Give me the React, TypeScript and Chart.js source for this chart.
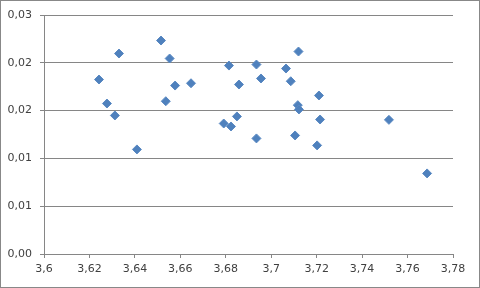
import React, { useEffect, useRef } from "react";
import { Chart, registerables } from "chart.js";

Chart.register(...registerables);

const xValues = [
  3.6242, 3.6277, 3.6312, 3.633, 3.6409, 3.6515, 3.6536, 3.6553, 3.6577, 3.6647,
  3.6791, 3.6814, 3.6823, 3.6849, 3.6858, 3.6935, 3.6935, 3.6955, 3.7065, 3.7086,
  3.7105, 3.712, 3.7117, 3.7122, 3.721, 3.7202, 3.7215, 3.7518, 3.7686,
];
const yValues = [
  0.01825, 0.01574, 0.01449, 0.02097, 0.01094, 0.02233, 0.01598, 0.02045, 0.01762, 0.01786,
  0.01365, 0.01971, 0.01334, 0.01439, 0.01773, 0.01209, 0.01982, 0.01836, 0.0194, 0.01807,
  0.0124, 0.02118, 0.01557, 0.01512, 0.01658, 0.01136, 0.01407, 0.01403, 0.00843,
];
const xTickLabels = ["3,6", "3,62", "3,64", "3,66", "3,68", "3,7", "3,72", "3,74", "3,76", "3,78"];
const yTickLabels = ["0,00", "0,01", "0,01", "0,02", "0,02", "0,03"];

export default function App() {
  const ref = useRef<HTMLCanvasElement>(null);
  useEffect(() => {
    document.body.style.margin = "0";
    const ctx = ref.current!;
    const chart = new Chart(ctx, {
      type: "scatter",
      data: {
        datasets: [
          {
            data: xValues.map((x, i) => ({ x, y: yValues[i] })),
            backgroundColor: "#4F81BD",
            borderColor: "#5A89C2",
            borderWidth: 1,
            pointStyle: "rectRot",
            pointRadius: 4.5,
          },
        ],
      },
      options: {
        animation: false,
        responsive: false,
        maintainAspectRatio: false,
        layout: { padding: { top: 15, right: 27, left: 0, bottom: 0 } },
        plugins: { legend: { display: false }, tooltip: { enabled: false } },
        scales: {
          x: {
            type: "linear",
            min: 3.6,
            max: 3.78,
            afterBuildTicks: (s: any) => {
              s.ticks = xTickLabels.map((_, i) => ({ value: 3.6 + i * 0.02 }));
            },
            ticks: {
              callback: (_v: any, i: number) => xTickLabels[i],
              font: { family: "DejaVu Sans", size: 11 },
              color: "#404040",
              padding: 5,
              maxRotation: 0,
              autoSkip: false,
            },
            grid: { drawOnChartArea: false, drawTicks: true, tickLength: 4, color: "#868686" },
            border: { color: "#868686" },
            afterFit: (s: any) => {
              s.height = 34;
            },
          },
          y: {
            type: "linear",
            min: 0,
            max: 0.025,
            afterBuildTicks: (s: any) => {
              s.ticks = yTickLabels.map((_, i) => ({ value: i * 0.005 }));
            },
            ticks: {
              callback: (_v: any, i: number) => yTickLabels[i],
              font: { family: "DejaVu Sans", size: 11 },
              color: "#404040",
              padding: 8,
            },
            grid: { color: "#868686", tickLength: 4 },
            border: { color: "#868686" },
            afterFit: (s: any) => {
              s.width = 44;
            },
          },
        },
      },
    } as any);
    return () => chart.destroy();
  }, []);
  return (
    <div style={{ position: "relative", width: 480, height: 288, background: "#fff" }}>
      <canvas ref={ref} width={480} height={288} style={{ display: "block", position: "absolute", left: 0, top: 0 }} />
      <div
        style={{
          position: "absolute",
          left: 0,
          top: 0,
          width: 480,
          height: 288,
          boxSizing: "border-box",
          border: "1px solid #888",
          pointerEvents: "none",
        }}
      />
    </div>
  );
}
